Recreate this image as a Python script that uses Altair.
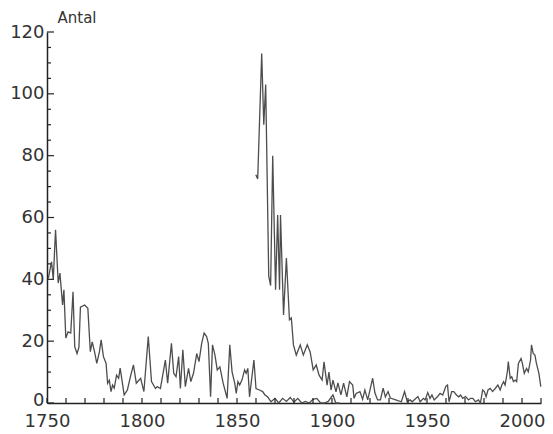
import altair as alt
import pandas as pd

# Series 1 (from 1750), (year, antal)
seriesA = [
    (1750.7, 40.3), (1752.4, 45.7), (1753.3, 40), (1754.5, 56), (1755.9, 38.8),
    (1756.8, 42), (1758.2, 31.7), (1758.9, 36.6), (1759.9, 21), (1761.1, 23),
    (1762.5, 22.6), (1763.7, 36), (1764.6, 18.2), (1765.8, 16), (1766.8, 18),
    (1767.6, 31), (1769.8, 31.7), (1771.5, 30.6), (1772.8, 16.6), (1773.8, 19.8),
    (1775.0, 16.6), (1776.2, 12.8), (1777.6, 16.6), (1778.5, 20.4), (1779.7, 15),
    (1781.1, 12.8), (1781.9, 6.4), (1782.8, 7.4), (1783.7, 3.7), (1784.5, 5.8),
    (1785.4, 4.8), (1786.6, 9), (1787.7, 8), (1788.5, 11.3), (1789.7, 6.4),
    (1790.6, 2.6), (1792.3, 4.2), (1794.1, 9), (1795.5, 12.3), (1797.0, 6.4),
    (1799.3, 8), (1801.0, 3.7), (1803.3, 21.5), (1805.0, 6.9), (1807.1, 4.7),
    (1808.0, 5.3), (1809.7, 4.7), (1812.3, 13.9), (1813.5, 6.4), (1815.5, 19.3),
    (1816.7, 9.6), (1817.9, 8.5), (1819.3, 15), (1820.2, 4.7), (1821.5, 17.2),
    (1822.8, 5.3), (1824.5, 11.2), (1825.7, 6.9), (1827.1, 9.6), (1828.8, 16),
    (1830.0, 13.4), (1831.4, 19.3), (1832.7, 22.6), (1834.0, 21.5), (1834.9, 19.3),
    (1836.1, 2), (1837.1, 18.8), (1838.4, 15.5), (1839.6, 10.7), (1841.0, 11.7),
    (1842.7, 6.4), (1844.8, 1.5), (1846.2, 18.8), (1847.4, 10.1), (1848.8, 6.4),
    (1849.6, 3.1), (1850.5, 6.9), (1851.4, 5.8), (1852.6, 7.4), (1854.0, 10.7),
    (1854.8, 9.6), (1855.7, 11.2), (1856.6, 2), (1858.9, 13.9), (1860.0, 4.7),
    (1861.8, 4.2), (1863.5, 3.7), (1864.7, 2.6), (1866.1, 2), (1867.9, 0.4),
    (1870, 1.5), (1872, 0), (1874, 1.5), (1876, 0.5), (1878, 1.8), (1880, 0.3),
    (1882, 1.5), (1884, 0), (1886, 0.5), (1888, 0), (1890, 1.2), (1892, 1.5),
    (1894, 0), (1896, 0), (1898, 0.5), (1900.5, 2.6), (1902, 0), (1904, 0),
]

# Series 2 (from 1860), (year, antal)
seriesB = [
    (1859.9, 73.8), (1860.9, 72.5), (1863.0, 113), (1864.1, 90), (1865.1, 103),
    (1866.7, 41), (1867.7, 38), (1868.8, 80), (1870.3, 36.6), (1871.4, 60.8),
    (1872.4, 36.6), (1872.9, 60.8), (1874.5, 28.5), (1876.0, 46.9), (1877.6, 26.9),
    (1878.6, 27.5), (1879.7, 18.8), (1881.2, 15.5), (1883.3, 18.8), (1884.9, 15.5),
    (1887.0, 18.8), (1888.5, 16.5), (1890.1, 10.7), (1891.7, 12.3), (1893.2, 9),
    (1894.8, 7.4), (1895.8, 13.3), (1897.4, 5.8), (1898.4, 10), (1899.5, 4.2),
    (1900.5, 7.4), (1902.1, 3.6), (1903.1, 6.5), (1904.7, 2.6), (1906.1, 6.4),
    (1907.8, 2), (1909.2, 6.9), (1910.9, 5.8), (1911.6, 1.5), (1912.7, 3.1),
    (1914.7, 3.7), (1916.1, 1.2), (1917.3, 4.2), (1918.8, 1), (1921.4, 8),
    (1922.6, 3.2), (1924.0, 1), (1925.5, 1), (1926.9, 4.8), (1928.1, 2),
    (1929.5, 3.7), (1930.7, 1.6), (1933.5, 1), (1936.5, 0.4), (1938.2, 3.7),
    (1939.6, 0.4), (1941.1, 1), (1942.2, 0.4), (1945.2, 2.1), (1946.4, 0.4),
    (1948.1, 1.5), (1949.0, 1), (1950.4, 3.4), (1951.6, 1.5), (1952.6, 2.6),
    (1953.8, 1), (1955.6, 2.1), (1956.9, 3.1), (1958.3, 2.6), (1959.9, 5.4),
    (1960.8, 5.8), (1961.6, 0.4), (1963.0, 3.7), (1964.1, 3.7), (1965.5, 2.6),
    (1966.7, 2), (1967.7, 2.6), (1968.8, 1.5), (1970.3, 2.1), (1971.9, 1),
    (1972.9, 1.5), (1974.1, 1.5), (1975.5, 0.4), (1977.1, 1), (1978.1, 0),
    (1979.3, 4.2), (1980.2, 3.7), (1981.1, 2), (1982.1, 4.2), (1983.3, 4.7),
    (1984.5, 3.7), (1985.9, 4.7), (1987.3, 5.8), (1988.5, 4.2), (1989.4, 5.8),
    (1990.3, 6.9), (1991.1, 5.8), (1992.3, 10.1), (1992.8, 13.4), (1993.8, 8),
    (1994.6, 8.5), (1995.5, 6.9), (1996.4, 7.4), (1997.2, 6.9), (1998.1, 12.8),
    (1999.5, 14.4), (2000.2, 12.8), (2001.2, 9.6), (2002.4, 11.2), (2003.3, 10.1),
    (2004.5, 13.9), (2005.0, 18.8), (2005.9, 16), (2006.8, 15.5), (2007.6, 12.8),
    (2008.9, 9.6), (2009.9, 5.3),
]

x_labels = [1750, 1800, 1850, 1900, 1950, 2000]
x_ticks = list(range(1750, 2011, 10))
y_labels = [0, 20, 40, 60, 80, 100, 120]
y_minor = [v for v in range(0, 121, 5) if v % 20 != 0]
y_title = "Antal"

dfA = pd.DataFrame(seriesA, columns=["year", "antal"])
dfA["serie"] = "A"
dfB = pd.DataFrame(seriesB, columns=["year", "antal"])
dfB["serie"] = "B"
df = pd.concat([dfA, dfB], ignore_index=True)

FONT = "DejaVu Sans"
AX = "#222222"

x = alt.X(
    "year:Q",
    scale=alt.Scale(domain=[1750, 2010], nice=False, zero=False),
    axis=alt.Axis(
        values=x_labels, format="d", title=None, ticks=False, grid=False,
        domainColor=AX, domainWidth=1.5, labelFont=FONT, labelFontSize=18,
        labelColor="#333333", labelPadding=9, labelFlush=False,
    ),
)
y = alt.Y(
    "antal:Q",
    scale=alt.Scale(domain=[0, 120], nice=False),
    axis=alt.Axis(
        values=y_labels, title=y_title, ticks=False, grid=False,
        domainColor=AX, domainWidth=1.5, labelFont=FONT, labelFontSize=18,
        labelColor="#333333", labelPadding=3, labelFlush=False,
        labelOffset={"condition": {"test": "datum.value === 0", "value": -3}, "value": 0},
        titleAngle=0, titleAlign="left", titleBaseline="alphabetic",
        titleX=10, titleY=-10, titleFont=FONT, titleFontSize=15,
        titleFontWeight="normal", titleColor="#333333",
    ),
)

lines = alt.Chart(df).mark_line(color="#4d4d4d", strokeWidth=1.3).encode(
    x=x, y=y, detail="serie:N"
)

xt = alt.Chart(pd.DataFrame({"year": x_ticks})).mark_rule(
    color=AX, strokeWidth=1.2
).encode(x=x, y=alt.value(371), y2=alt.value(366))

ytm = alt.Chart(pd.DataFrame({"antal": y_labels})).mark_rule(
    color=AX, strokeWidth=1.2
).encode(y=y, x=alt.value(0), x2=alt.value(7))

ytn = alt.Chart(pd.DataFrame({"antal": y_minor})).mark_rule(
    color=AX, strokeWidth=1.2
).encode(y=y, x=alt.value(0), x2=alt.value(4))

chart = alt.layer(lines, xt, ytm, ytn).properties(
    width=494,
    height=371,
    autosize=alt.AutoSizeParams(type="none"),
    padding={"left": 39, "top": 24, "right": 4, "bottom": 30},
    background="white",
).configure_view(stroke=None)

chart.save("out.html", embed_options={"renderer": "svg", "actions": False})
